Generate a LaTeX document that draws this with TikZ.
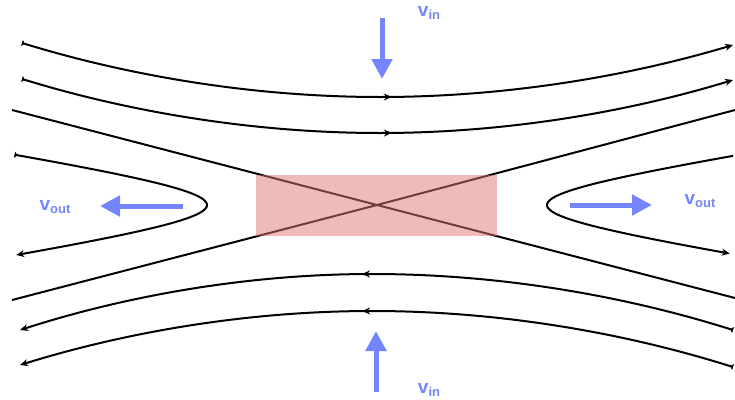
\documentclass[tikz,border=0pt]{standalone}
\usepackage{fontspec}
\setmainfont{Liberation Sans}
\usetikzlibrary{arrows.meta,decorations.markings}
\definecolor{flowblue}{RGB}{117,133,255}
\definecolor{sheetred}{RGB}{228,118,118}
\newcommand\velo[1]{{\fontsize{19}{19}\selectfont v}{\fontsize{13}{13}\selectfont\raisebox{-3pt}{#1}}}

\begin{document}
\begin{tikzpicture}[x=1pt,y=-1pt,>={Stealth[length=8pt,width=7pt]},
 wire/.style={line width=2pt},
 fieldline/.style={wire,{Triangle[reversed,length=3pt,width=6pt]}->,postaction=decorate,
  decoration={markings,mark=at position 0.52 with {\arrow{Stealth[length=8pt,width=7pt]}}}},
 flow/.style={flowblue,line width=5pt,-{Triangle[length=20pt,width=20pt]}},
 vlabel/.style={text=flowblue,font=\bfseries,inner sep=0pt}]
\useasboundingbox (0,0) rectangle (735,399);
\coordinate (x) at (377,205);
\draw[fieldline] (22,43) parabola bend (380,97) (733,45); \draw[fieldline] (22,79) parabola bend (380,133) (733,80);
\draw[fieldline] (733,330) parabola bend (372,274) (20,330); \draw[fieldline] (733,367) parabola bend (372,311) (20,365);
\draw[wire] (12,110) -- (x) -- (735,298); \draw[wire] (12,300) -- (x) -- (735,110);
\draw[wire,{Triangle[reversed,length=3pt,width=6pt]}->] plot[domain=-1.39:1.385,samples=80,smooth] ({377-170*cosh(\x)},{205+26.7*sinh(\x)});
\draw[wire,->] plot[domain=-1.37:1.36,samples=80,smooth] ({377+170*cosh(\x)},{205+26.7*sinh(\x)});
\fill[sheetred,fill opacity=0.5] (256,175) rectangle (497,236);
\coordinate (intail) at (382,18); \coordinate (inhead) at (382,79); \draw[flow] (intail) -- (inhead);
\coordinate (botail) at (376,392); \coordinate (bohead) at (376,331); \draw[flow] (botail) -- (bohead);
\coordinate (lotail) at (183,206); \coordinate (lohead) at (100,206); \draw[flow] (lotail) -- (lohead);
\coordinate (rotail) at (570,205); \coordinate (rohead) at (652,205); \draw[flow] (rotail) -- (rohead);
\node[vlabel] (vintop) at (429,13) {\velo{in}}; \node[vlabel] (vinbot) at (429,390) {\velo{in}};
\node[vlabel] (voutl) at (55,207) {\velo{out}}; \node[vlabel] (voutr) at (700,201) {\velo{out}};
\end{tikzpicture}
\end{document}
